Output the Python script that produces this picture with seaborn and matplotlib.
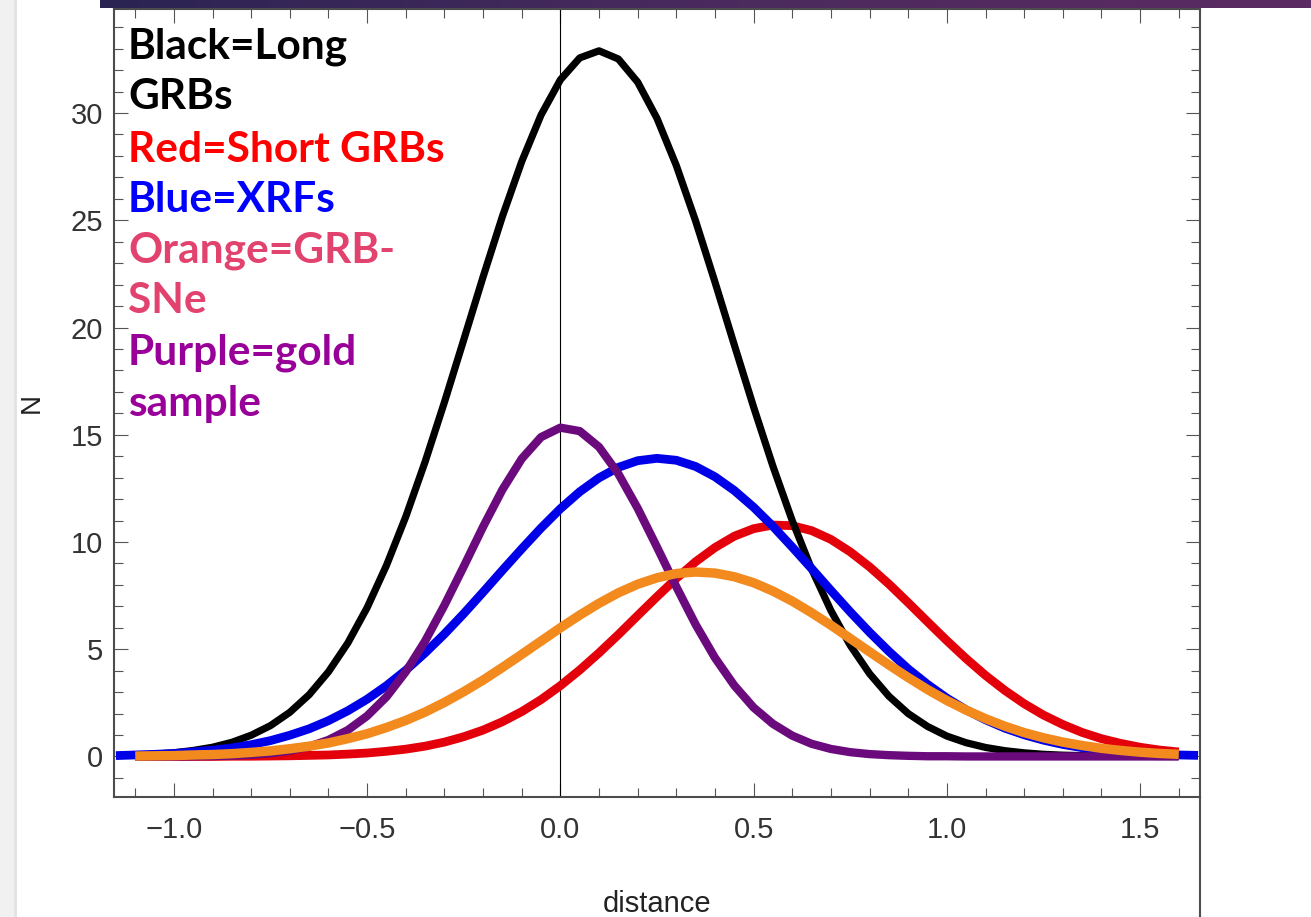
import numpy as np
import pandas as pd
import matplotlib
matplotlib.use("Agg")
import matplotlib.pyplot as plt
import seaborn as sns
from matplotlib.ticker import MultipleLocator
from matplotlib.patches import Rectangle
from matplotlib.lines import Line2D
from matplotlib.colors import LinearSegmentedColormap

# ---- data ----
distance = [-1.10, -1.05, -1.00, -0.95, -0.90, -0.85, -0.80, -0.75, -0.70, -0.65, -0.60, -0.55,
            -0.50, -0.45, -0.40, -0.35, -0.30, -0.25, -0.20, -0.15, -0.10, -0.05, 0.00, 0.05,
            0.10, 0.15, 0.20, 0.25, 0.30, 0.35, 0.40, 0.45, 0.50, 0.55, 0.60, 0.65, 0.70, 0.75,
            0.80, 0.85, 0.90, 0.95, 1.00, 1.05, 1.10, 1.15, 1.20, 1.25, 1.30, 1.35, 1.40, 1.45,
            1.50, 1.55, 1.60]
distance_xrf = [-1.15] + distance + [1.65]

n_long = [0.06, 0.11, 0.17, 0.28, 0.43, 0.66, 0.99, 1.44, 2.06, 2.88, 3.95, 5.29, 6.94, 8.91,
          11.18, 13.74, 16.52, 19.43, 22.36, 25.18, 27.74, 29.91, 31.55, 32.57, 32.90, 32.52,
          31.44, 29.75, 27.55, 24.96, 22.12, 19.19, 16.29, 13.53, 10.99, 8.74, 6.80, 5.18, 3.86,
          2.81, 2.00, 1.40, 0.95, 0.64, 0.42, 0.27, 0.17, 0.10, 0.06, 0.04, 0.02, 0.01, 0.01,
          0.00, 0.00]
n_gold = [0.00, 0.00, 0.00, 0.01, 0.02, 0.04, 0.08, 0.15, 0.27, 0.46, 0.77, 1.23, 1.89, 2.78,
          3.95, 5.38, 7.05, 8.86, 10.71, 12.44, 13.88, 14.89, 15.33, 15.17, 14.43, 13.18, 11.57,
          9.76, 7.91, 6.15, 4.60, 3.31, 2.28, 1.52, 0.97, 0.59, 0.35, 0.20, 0.11, 0.06, 0.03,
          0.01, 0.01, 0.00, 0.00, 0.00, 0.00, 0.00, 0.00, 0.00, 0.00, 0.00, 0.00, 0.00, 0.00]
n_xrf = [0.04, 0.07, 0.10, 0.14, 0.21, 0.29, 0.40, 0.55, 0.74, 0.99, 1.29, 1.67, 2.13, 2.67,
         3.30, 4.02, 4.83, 5.71, 6.66, 7.66, 8.68, 9.68, 10.65, 11.55, 12.34, 12.99, 13.48,
         13.79, 13.90, 13.81, 13.52, 13.04, 12.40, 11.62, 10.73, 9.76, 8.76, 7.74, 6.74, 5.79,
         4.90, 4.08, 3.36, 2.72, 2.17, 1.71, 1.32, 1.01, 0.76, 0.56, 0.41, 0.30, 0.21, 0.15,
         0.10, 0.07, 0.05]
n_short = [0.00, 0.00, 0.00, 0.00, 0.00, 0.01, 0.01, 0.02, 0.03, 0.05, 0.07, 0.11, 0.16, 0.24,
           0.34, 0.48, 0.67, 0.92, 1.23, 1.62, 2.09, 2.65, 3.30, 4.03, 4.83, 5.68, 6.57, 7.45,
           8.30, 9.08, 9.74, 10.27, 10.62, 10.79, 10.76, 10.53, 10.12, 9.54, 8.84, 8.04, 7.17,
           6.28, 5.40, 4.56, 3.78, 3.08, 2.46, 1.93, 1.49, 1.12, 0.83, 0.61, 0.43, 0.30, 0.21]
n_sne = [0.02, 0.03, 0.04, 0.07, 0.09, 0.13, 0.19, 0.26, 0.36, 0.48, 0.63, 0.83, 1.06, 1.35,
         1.68, 2.07, 2.52, 3.02, 3.56, 4.15, 4.76, 5.38, 6.00, 6.59, 7.14, 7.63, 8.03, 8.33,
         8.53, 8.60, 8.55, 8.38, 8.10, 7.71, 7.24, 6.70, 6.12, 5.50, 4.88, 4.27, 3.68, 3.12,
         2.61, 2.16, 1.76, 1.41, 1.11, 0.87, 0.67, 0.51, 0.38, 0.28, 0.20, 0.14, 0.10]

x_ticks = [-1.0, -0.5, 0.0, 0.5, 1.0, 1.5]
x_tick_labels = ["\u22121.0", "\u22120.5", "0.0", "0.5", "1.0", "1.5"]
y_ticks = [0, 5, 10, 15, 20, 25, 30]
y_tick_labels = ["0", "5", "10", "15", "20", "25", "30"]

legend_lines = ["Black=Long", "GRBs", "Red=Short GRBs", "Blue=XRFs", "Orange=GRB-", "SNe",
                "Purple=gold", "sample"]

# ---- style ----
sns.set_theme(style="white")
plt.rcParams['font.family'] = ['Liberation Sans', 'DejaVu Sans']

W, H = 1311, 917
fig = plt.figure(figsize=(W/100, H/100), dpi=100)
fig.patch.set_facecolor("white")

# slide decorations (screenshot frame)
fig.add_artist(Rectangle((0, 0), 14/W, 1, transform=fig.transFigure, color='#f1f1f1', lw=0, zorder=0))
fig.add_artist(Rectangle((14/W, 0), 3/W, 1, transform=fig.transFigure, color='#e4e4e4', lw=0, zorder=0))
bax = fig.add_axes([100/W, 1-8/H, (W-100)/W, 8/H])
bax.imshow(np.linspace(0, 1, 256)[None, :], aspect='auto',
           cmap=LinearSegmentedColormap.from_list('banner', ['#2a2453', '#4a2a5e', '#5c2b63']))
bax.set_axis_off()

ax = fig.add_axes([114/W, 1-797/H, (1200-114)/W, (797-9)/H])
ax.set_facecolor("white")

df = pd.concat([
    pd.DataFrame({"distance": distance, "N": n_short, "set": "short"}),
    pd.DataFrame({"distance": distance, "N": n_long, "set": "long"}),
    pd.DataFrame({"distance": distance_xrf, "N": n_xrf, "set": "xrf"}),
    pd.DataFrame({"distance": distance, "N": n_gold, "set": "gold"}),
    pd.DataFrame({"distance": distance, "N": n_sne, "set": "sne"}),
], ignore_index=True)

styles = {"short": ('#e4000b', 6.3), "long": ('#000000', 5.2), "xrf": ('#0000e8', 6.3),
          "gold": ('#6a0a7c', 6.0), "sne": ('#f28a1e', 6.8)}

ax.axvline(0, color="black", lw=0.8, zorder=1)
for i, (name, (col, lw)) in enumerate(styles.items()):
    sub = df[df["set"] == name]
    sns.lineplot(data=sub, x="distance", y="N", color=col, linewidth=lw, ax=ax, sort=False,
                 estimator=None, zorder=3+i, solid_capstyle='butt', solid_joinstyle='round')

ax.set_xlim(-1.155, 1.655)
ax.set_ylim(-1.89, 34.85)
ax.set_xticks(x_ticks)
ax.set_xticklabels(x_tick_labels)
ax.set_yticks(y_ticks)
ax.set_yticklabels(y_tick_labels)
ax.xaxis.set_minor_locator(MultipleLocator(0.1))
ax.yaxis.set_minor_locator(MultipleLocator(1))
ax.tick_params(which='both', direction='in', top=True, right=True, bottom=True, left=True,
               color='#555555', width=0.8)
ax.tick_params(which='major', length=10)
ax.tick_params(which='minor', length=6.5)
ax.tick_params(axis='x', which='major', pad=14, labelsize=21, labelcolor='#333333')
ax.tick_params(axis='y', which='major', pad=8, labelsize=21, labelcolor='#333333')
for s in ax.spines.values():
    s.set_color('#4d4d4d')
    s.set_linewidth(1.5)
    s.set_visible(True)
ax.set_xlabel("")
ax.set_ylabel("")

fig.add_artist(Line2D([1200/W, 1200/W], [0, 1-797/H], transform=fig.transFigure,
                      color='#4d4d4d', lw=1.5))

fig.text(32/W, 1-403/H, "N", rotation=90, ha='center', va='center', fontsize=20, color='#222222')
fig.text(657/W, 1-912/H, "distance", ha='center', va='baseline', fontsize=21, color='#222222')

legend_colors = ["#000000", "#000000", "#ff0000", "#0000ff", "#e2426e", "#e2426e", "#990099", "#990099"]
legend_baselines = [58, 109, 162, 212, 262, 313, 364, 416]
for t, c, yb in zip(legend_lines, legend_colors, legend_baselines):
    fig.text(128/W, 1-yb/H, t, color=c, fontsize=30.5, fontweight='bold', family='Lato',
             va='baseline', ha='left', zorder=10)

fig.savefig("out.png", dpi=100)
